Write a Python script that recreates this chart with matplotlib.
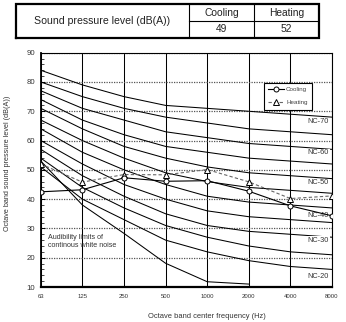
import matplotlib
matplotlib.use('Agg')
import matplotlib.pyplot as plt
import numpy as np
from matplotlib.ticker import MultipleLocator

plt.rcParams['font.family'] = ['Liberation Sans', 'DejaVu Sans']

# octave band centre frequencies (Hz)
freqs = ['63', '125', '250', '500', '1000', '2000', '4000', '8000']

# measured octave band levels
cooling = [42.5, 43.2, 47.3, 46.1, 46.3, 42.7, 37.7, 34.3]
heating = [52.0, 45.8, 48.4, 48.3, 50.1, 45.9, 40.2, 41.1]

# NC curves, 63 Hz .. 8000 Hz
nc_names = ['NC-20', 'NC-25', 'NC-30', 'NC-35', 'NC-40', 'NC-45',
            'NC-50', 'NC-55', 'NC-60', 'NC-65', 'NC-70']
nc_levels = [
    [51, 40, 33, 26, 22, 19, 17, 16],
    [54, 44, 37, 31, 27, 24, 22, 21],
    [57, 48, 41, 35, 31, 29, 28, 27],
    [60, 52, 45, 40, 36, 34, 33, 32],
    [64, 56, 50, 45, 41, 39, 38, 37],
    [67, 60, 54, 49, 46, 44, 43, 42],
    [71, 64, 58, 54, 51, 49, 48, 47],
    [74, 67, 62, 58, 56, 54, 53, 52],
    [77, 71, 67, 63, 61, 59, 58, 57],
    [80, 75, 71, 68, 66, 64, 63, 62],
    [84, 79, 75, 72, 71, 70, 69, 68],
]
nc_shown = ['NC-20', 'NC-30', 'NC-40', 'NC-50', 'NC-60', 'NC-70']

# audibility limit of continuous white noise, 63 Hz .. 2000 Hz
audibility = [53, 38, 28.3, 18.1, 11.8, 11.0]

# table above the chart
table_title = 'Sound pressure level (dB(A))'
table_modes = ['Cooling', 'Heating']
table_values = [49, 52]

W, H = 346, 322
fig = plt.figure(figsize=(W / 100, H / 100), dpi=100)

# ---- table ----
tl, tr, tt, tb = 15.7, 319, 4.3, 37.7
tax = fig.add_axes([tl / W, 1 - tb / H, (tr - tl) / W, (tb - tt) / H])
tax.set_xlim(0, 1)
tax.set_ylim(0, 1)
tax.axis('off')
c1 = (189 - tl) / (tr - tl)
c2 = (254 - tl) / (tr - tl)
tax.plot([0, 1, 1, 0, 0], [0, 0, 1, 1, 0], color='black', lw=1.6,
         solid_joinstyle='miter', clip_on=False)
tax.plot([c1, c1], [0, 1], color='black', lw=0.8)
tax.plot([c2, c2], [0, 1], color='black', lw=0.8)
tax.plot([c1, 1], [0.5, 0.5], color='black', lw=0.8)
tax.text(c1 / 2, 0.5, table_title, ha='center', va='center', fontsize=7.6, color='#222')
for i, (m, v) in enumerate(zip(table_modes, table_values)):
    cx = [(c1 + c2) / 2, (c2 + 1) / 2][i]
    tax.text(cx, 0.75, m, ha='center', va='center', fontsize=7.4, color='#222')
    tax.text(cx, 0.25, str(v), ha='center', va='center', fontsize=7.4, color='#222')

# ---- chart ----
al, ar, at, ab = 40.8, 332, 52.7, 287
ax = fig.add_axes([al / W, 1 - ab / H, (ar - al) / W, (ab - at) / H])
x = np.arange(len(freqs))

for lv in nc_levels:
    ax.plot(x, lv, color='black', lw=0.75, zorder=2)
ax.plot(x[:len(audibility)], audibility, color='black', lw=0.75, zorder=2)

ax.plot(x, cooling, color='black', lw=0.8, marker='o', ms=3.6,
        mfc='white', mec='black', mew=0.7, label='Cooling', zorder=4)
ax.plot(x, heating, color='#666666', lw=0.8, ls=(0, (3, 2)), marker='^', ms=3.8,
        mfc='white', mec='black', mew=0.7, label='Heating', zorder=3)

ax.set_xlim(0, 7)
ax.set_ylim(10, 90)
ax.set_xticks(x)
ax.set_xticklabels(freqs)
ax.yaxis.set_major_locator(MultipleLocator(10))
ax.yaxis.set_minor_locator(MultipleLocator(2))
ax.tick_params(axis='x', length=0, pad=5, labelsize=4.3, labelcolor='#333')
ax.tick_params(axis='y', which='both', direction='in', labelsize=5.6,
               labelcolor='#333', pad=4)
ax.tick_params(axis='y', which='major', length=3, width=0.7)
ax.tick_params(axis='y', which='minor', length=1.8, width=0.5)

ax.grid(axis='x', color='black', lw=0.75)
ax.grid(axis='y', color='#555555', lw=0.9, ls=(0, (1, 1)))
ax.set_axisbelow(True)
ax.spines['left'].set_linewidth(1.3)
ax.spines['bottom'].set_linewidth(1.6)
ax.spines['top'].set_linewidth(0.8)
ax.spines['right'].set_linewidth(0.8)

# NC labels
label_y = {'NC-70': 66.4, 'NC-60': 55.9, 'NC-50': 45.7,
           'NC-40': 34.4, 'NC-30': 25.9, 'NC-20': 13.5}
for name in nc_shown:
    ax.text(6.93, label_y[name], name, ha='right', va='center',
            fontsize=5.3, color='#333',
            bbox=dict(facecolor='white', edgecolor='none', pad=0.3))

ax.text(0.18, 27.0, 'Audibility limits of', fontsize=5.1, color='#333', va='center')
ax.text(0.18, 24.1, 'continous white noise', fontsize=5.1, color='#333', va='center')

leg = ax.legend(loc='upper right', bbox_to_anchor=(0.931, 0.872), borderaxespad=0,
                fontsize=4.5, fancybox=False, edgecolor='black', framealpha=1,
                handlelength=2.6, handletextpad=0.3, borderpad=0.7, labelspacing=1.2)
leg.get_frame().set_linewidth(0.8)
for t in leg.get_texts():
    t.set_color('#444')

fig.text(8 / W, 0.494, 'Octave band sound pressure level (dB(A))', rotation=90,
         ha='center', va='center', fontsize=5.2, color='#333')
fig.text(207 / W, 1 - 317 / H, 'Octave band center frequency (Hz)',
         ha='center', va='center', fontsize=5.4, color='#333')

fig.savefig('out.png', dpi=100)
